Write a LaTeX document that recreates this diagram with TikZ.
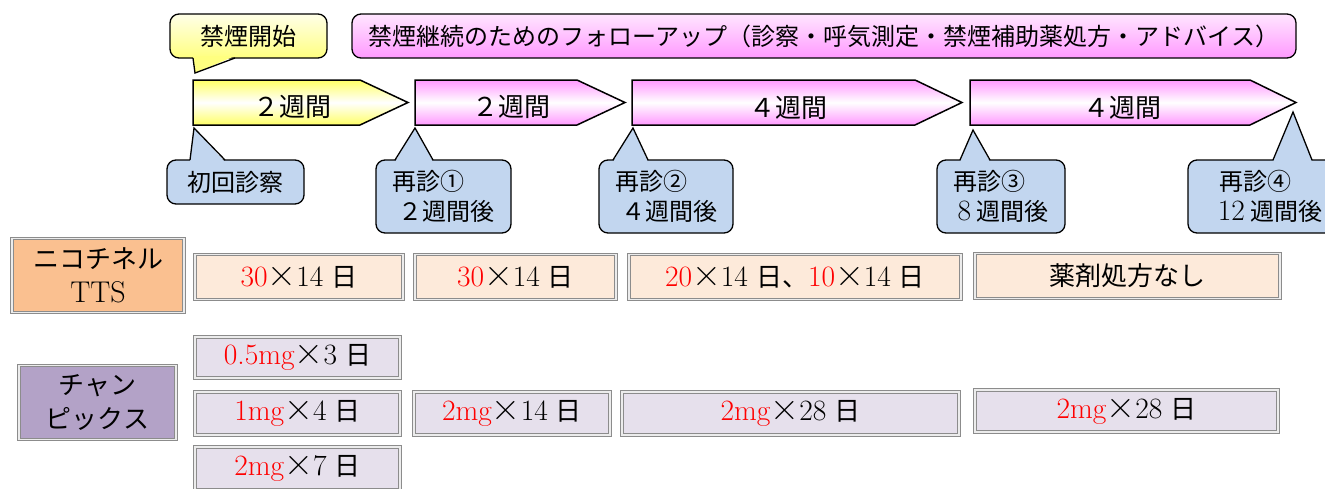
\documentclass[tikz,border=0pt]{standalone}
\usepackage{fontspec}
\newfontfamily\jp{Noto Sans CJK JP}

\definecolor{weekyellow}{HTML}{FFFF66}
\definecolor{weekpink}{HTML}{FF99FF}
\definecolor{starttop}{HTML}{FFFFE8}
\definecolor{startbot}{HTML}{FFFF80}
\definecolor{followtop}{HTML}{FFE6FF}
\definecolor{followbot}{HTML}{FF99FF}
\definecolor{visitblue}{HTML}{C2D6EF}
\definecolor{ttsorange}{HTML}{FAC090}
\definecolor{ttsfill}{HTML}{FDEADA}
\definecolor{chpurple}{HTML}{B3A2C7}
\definecolor{chfill}{HTML}{E6E0EC}
\definecolor{boxgray}{HTML}{8C8C8C}

\newcommand\nm[1]{{\rmfamily\fontsize{29.5}{30}\selectfont #1}}
\newcommand\rd[1]{\textcolor{red}{\nm{#1}}}
\newcommand\tms{{\rmfamily\fontsize{40}{30}\selectfont ×}}
\newcommand\days{\hspace{8pt}日}

\begin{document}
\begin{tikzpicture}[
    x = 1pt, y = -1pt,
    every node/.style = {inner sep = 0pt, font = \jp\fontsize{24}{30}\selectfont},
    tipbox/.style = {draw, line width = 1.3pt, rounded corners = 9pt},
    arrowbody/.style = {draw, line width = 1.5pt, line join = miter},
    yellowarrow/.style = {arrowbody, top color = weekyellow, bottom color = weekyellow, middle color = white},
    pinkarrow/.style = {arrowbody, top color = weekpink, bottom color = weekpink, middle color = white},
    week/.style = {font = \jp\fontsize{26}{30}\selectfont},
    visit/.style = {tipbox, fill = visitblue, align = left, minimum height = 73},
    tail/.style = {line width = 1.3pt, line join = miter},
    drugbox/.style = {draw = boxgray, double = white!85!gray, double distance = 1.6pt,
                   line width = 1pt, minimum height = 45, font = \jp\fontsize{26}{30}\selectfont},
    labelbox/.style = {drugbox, align = center, minimum width = 170, minimum height = 74,
                   font = \jp\fontsize{26}{34}\selectfont}]

\useasboundingbox (0,0) rectangle (1325,488);
\clip (0,0) rectangle (1325,488);

% callouts on top
\node[tipbox, top color = starttop, bottom color = startbot,
      minimum width = 157, minimum height = 44] (start) at (248.5,36) {禁煙開始};
\fill[startbot] (193,56) -- (195,73) -- (235,56) -- cycle;
\draw[tail] (193,58) -- (195,73) -- (235,58);
\node[tipbox, top color = followtop, bottom color = followbot,
      minimum width = 944, minimum height = 44] (follow) at (824,36)
      {禁煙継続のためのフォローアップ（診察・呼気測定・禁煙補助薬処方・アドバイス）};

% weeks
\draw[yellowarrow] (193,80) -- (360,80) -- (408,102.5) -- (360,125) -- (193,125) -- cycle;
\draw[pinkarrow] (415,80) -- (577,80) -- (625,102.5) -- (577,125) -- (415,125) -- cycle;
\draw[pinkarrow] (632,80) -- (915,80) -- (962,102.5) -- (915,125) -- (632,125) -- cycle;
\draw[pinkarrow] (970,80) -- (1250,80) -- (1296,102.5) -- (1250,125) -- (970,125) -- cycle;
\node[week] (w1) at (292,107) {２週間};
\node[week] (w2) at (511,107) {２週間};
\node[week] (w3) at (788,108) {４週間};
\node[week] (w4) at (1122,108) {４週間};

% visits
\node[visit, minimum width = 137, minimum height = 44] (v0) at (235.5,182) {初回診察};
\fill[visitblue] (190,162) -- (194,128) -- (225,162) -- cycle;
\draw[tail] (190,160) -- (194,128) -- (225,160);
\node[visit, minimum width = 135] (v1) at (443.5,196.5) {再診①\\\hspace{6pt}２週間後};
\fill[visitblue] (395,162) -- (415,128) -- (433,162) -- cycle;
\draw[tail] (395,160) -- (415,128) -- (433,160);
\node[visit, minimum width = 134] (v2) at (666,196.5) {再診②\\\hspace{6pt}４週間後};
\fill[visitblue] (613,162) -- (633,128) -- (648,162) -- cycle;
\draw[tail] (613,160) -- (633,128) -- (648,160);
\node[visit, minimum width = 128] (v3) at (1001,196.5) {再診③\\\hspace{4pt}\nm{8}\ 週間後};
\fill[visitblue] (960,162) -- (973,130) -- (990,162) -- cycle;
\draw[tail] (960,160) -- (973,130) -- (990,160);
\node[visit, minimum width = 164] (v4) at (1270,196.5) {\hspace{2pt}再診④\\\nm{12}\ 週間後};
\fill[visitblue] (1273,162) -- (1293,112) -- (1312,162) -- cycle;
\draw[tail] (1273,160) -- (1293,112) -- (1312,160);

% nicotinell TTS
\node[labelbox, fill = ttsorange, minimum width = 172] (tts) at (98,275.5) {ニコチネル\\{\rmfamily\fontsize{30}{34}\selectfont TTS}};
\node[drugbox, fill = ttsfill, minimum width = 208] (t1) at (299,277) {\rd{30}\tms\nm{14}\days};
\node[drugbox, fill = ttsfill, minimum width = 201] (t2) at (515.5,277) {\rd{30}\tms\nm{14}\days};
\node[drugbox, fill = ttsfill, minimum width = 332] (t3) at (795,277) {\rd{20}\tms\nm{14}\days、\rd{10}\tms\nm{14}\days};
\node[drugbox, fill = ttsfill, minimum width = 305] (t4) at (1127.5,276) {薬剤処方なし};

% champix
\node[labelbox, fill = chpurple, minimum width = 157] (ch) at (97.5,402.5) {チャン\\ピックス};
\node[drugbox, fill = chfill, minimum width = 205, minimum height = 41] (c1) at (297.5,357.5) {\rd{0.5mg}\tms\nm{3}\days};
\node[drugbox, fill = chfill, minimum width = 205, minimum height = 43] (c2) at (297.5,413.5) {\rd{1mg}\tms\nm{4}\days};
\node[drugbox, fill = chfill, minimum width = 205, minimum height = 43] (c3) at (297.5,468.5) {\rd{2mg}\tms\nm{7}\days};
\node[drugbox, fill = chfill, minimum width = 196, minimum height = 43] (c4) at (512,413.5) {\rd{2mg}\tms\nm{14}\days};
\node[drugbox, fill = chfill, minimum width = 337, minimum height = 43] (c5) at (790.5,413.5) {\rd{2mg}\tms\nm{28}\days};
\node[drugbox, fill = chfill, minimum width = 303, minimum height = 42] (c6) at (1126.5,411) {\rd{2mg}\tms\nm{28}\days};
\end{tikzpicture}
\end{document}
